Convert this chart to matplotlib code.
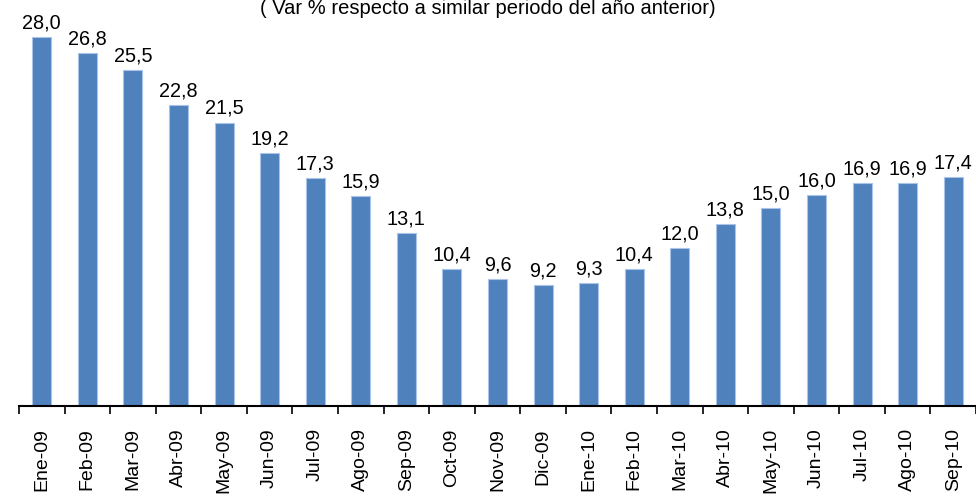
import matplotlib
matplotlib.use("Agg")
import matplotlib.pyplot as plt
import numpy as np

plt.rcParams['font.family'] = ['Liberation Sans', 'DejaVu Sans']

months = ["Ene-09", "Feb-09", "Mar-09", "Abr-09", "May-09", "Jun-09", "Jul-09",
          "Ago-09", "Sep-09", "Oct-09", "Nov-09", "Dic-09", "Ene-10", "Feb-10",
          "Mar-10", "Abr-10", "May-10", "Jun-10", "Jul-10", "Ago-10", "Sep-10"]
values = [28.0, 26.8, 25.5, 22.8, 21.5, 19.2, 17.3, 15.9, 13.1, 10.4, 9.6, 9.2,
          9.3, 10.4, 12.0, 13.8, 15.0, 16.0, 16.9, 16.9, 17.4]
title = "( Var % respecto a similar periodo del año anterior)"

fig = plt.figure(figsize=(9.76, 4.96), dpi=100)
ax = fig.add_axes([19/976, 90/496, 957/976, 406/496])

x = np.arange(len(months))
ax.bar(x, values, width=0.42, color="#4F81BD", edgecolor="#A9C4E8", linewidth=0.8)
ax.set_xlim(-0.5, len(months) - 0.5)
ax.set_ylim(0, 30.8)

for xi, v in zip(x, values):
    ax.text(xi, v + 0.35, f"{v:.1f}".replace(".", ","), ha="center", va="bottom",
            fontsize=14.3, color="black")

for s in ["top", "right", "left"]:
    ax.spines[s].set_visible(False)
ax.spines["bottom"].set_linewidth(1.5)
ax.set_yticks([])
ax.set_xticks(np.arange(-0.5, len(months), 1.0), minor=False)
ax.set_xticklabels([])
ax.tick_params(axis="x", which="major", direction="out", length=6, width=1.2)
ax.set_xticks(x, minor=True)
ax.set_xticklabels(months, minor=True, rotation=90, fontsize=14)
ax.tick_params(axis="x", which="minor", length=0, pad=16)

fig.text(0.5, 1.0 - 8/496, title, ha="center", va="center", fontsize=14.5)

fig.savefig("out.png", dpi=100)
